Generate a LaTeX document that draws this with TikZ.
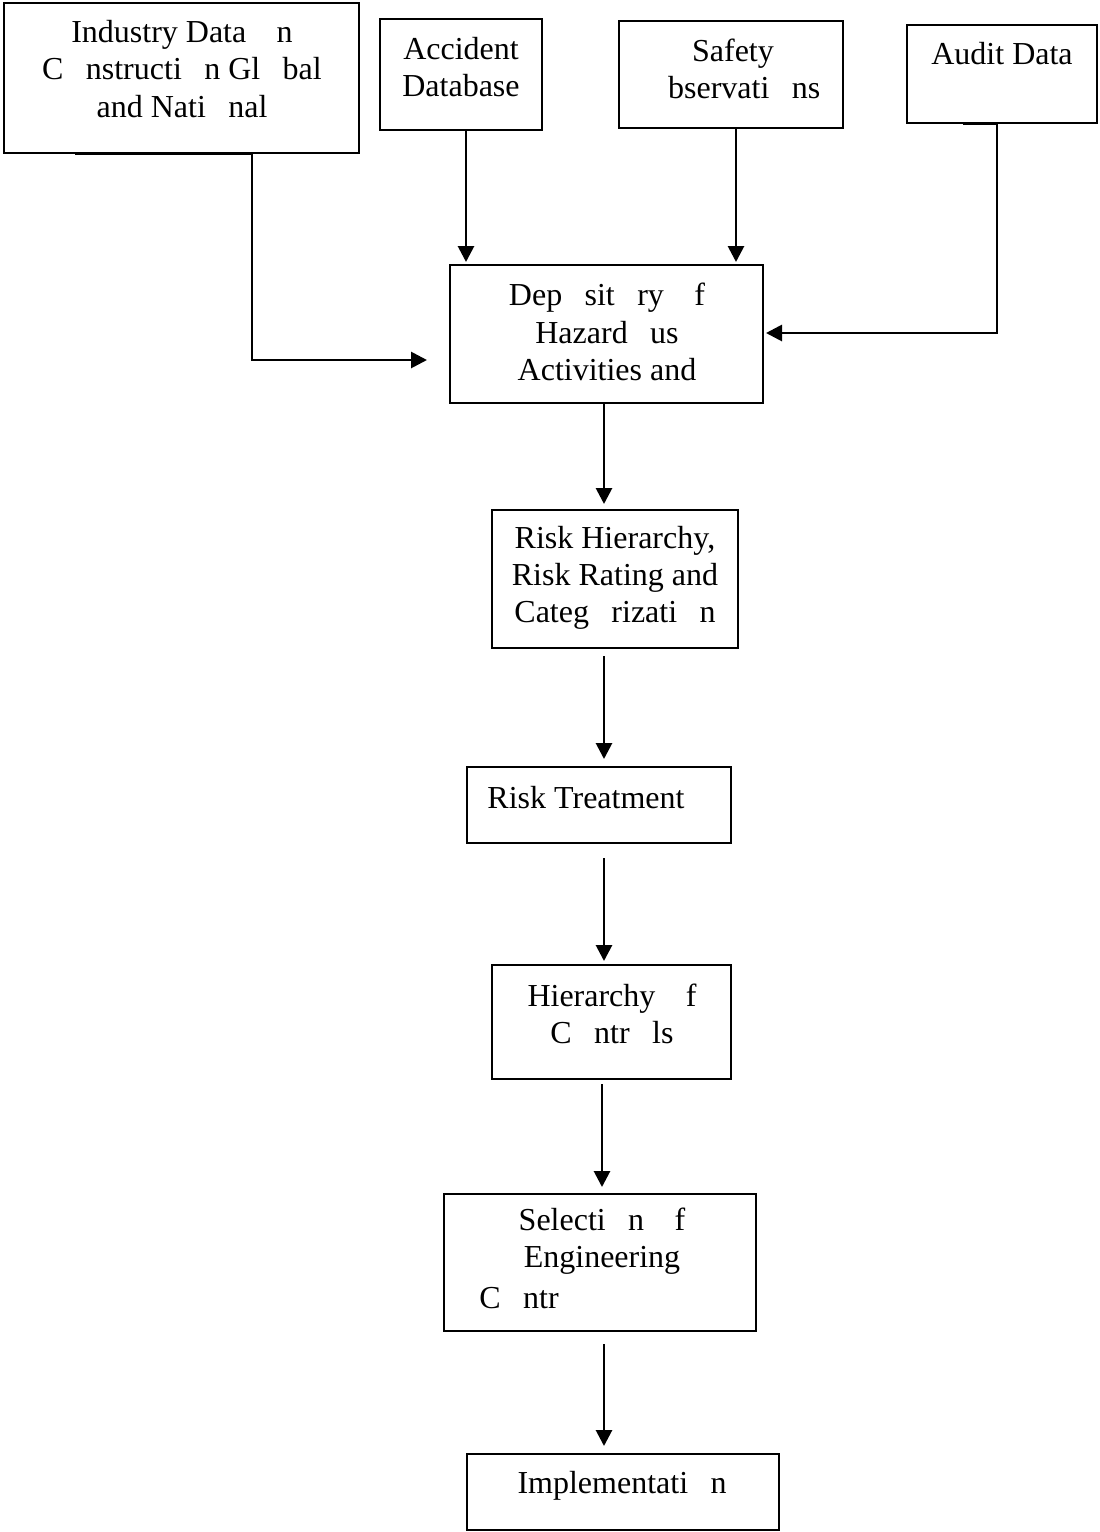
\documentclass[tikz,border=0pt]{standalone}
\usepackage{fontspec}
\setmainfont{Liberation Serif}
\usepackage{tikz}
\usetikzlibrary{arrows.meta,positioning,calc}
\newcommand{\nog}{\hspace{0.7em}}
\tikzset{
  box/.style={draw=black,line width=1pt,inner sep=0pt,fill=white},
  lbl/.style={align=center,inner sep=0pt,font=\fontsize{16}{18.6}\selectfont},
  arrow/.style={-{Triangle[length=8pt,width=8pt]},line width=1.4pt,color=black}
}
\begin{document}
\begin{tikzpicture}[x=0.5pt,y=-0.5pt]
  \useasboundingbox (0,0) rectangle (1099,1532);
  \node[box,minimum width=177.5pt,minimum height=75pt] (industry) at (181.5,78) {};
  \node[box,minimum width=81pt,minimum height=55.5pt] (accident) at (461,74.5) {};
  \node[box,minimum width=112pt,minimum height=53.5pt] (safety) at (731,74.5) {};
  \node[box,minimum width=95pt,minimum height=49pt] (audit) at (1002,74) {};
  \node[box,minimum width=156.5pt,minimum height=69pt] (depo) at (606.5,334) {};
  \node[box,minimum width=123pt,minimum height=69pt] (riskh) at (615,579) {};
  \node[box,minimum width=132pt,minimum height=38pt] (treat) at (599,805) {};
  \node[box,minimum width=119.5pt,minimum height=57pt] (hoc) at (611.5,1022) {};
  \node[box,minimum width=156pt,minimum height=68.5pt] (sel) at (600,1262.5) {};
  \node[box,minimum width=156pt,minimum height=38pt] (impl) at (623,1492) {};

  \node[lbl] (industryT) at (182,69) {Industry Data \nog{}n\\C\nog{}nstructi\nog{}n Gl\nog{}bal\\and Nati\nog{}nal};
  \node[lbl] (accidentT) at (461,67) {Accident\\Database};
  \node[lbl] (safetyT) at (733,69) {Safety\\\nog{}bservati\nog{}ns};
  \node[lbl] (auditT) at (1002,54) {Audit Data};
  \node[lbl] (depoT) at (607,332) {Dep\nog{}sit\nog{}ry \nog{}f\\Hazard\nog{}us\\Activities and};
  \node[lbl] (riskhT) at (615,578) {Risk Hierarchy,\\Risk Rating and\\Categ\nog{}rizati\nog{}n};
  \node[lbl] (treatT) at (586,798) {Risk Treatment};
  \node[lbl] (hocT) at (612,1014) {Hierarchy \nog{}f\\C\nog{}ntr\nog{}ls};
  \node[lbl] (selT) at (602,1241) {Selecti\nog{}n \nog{}f\\Engineering};
  \node[lbl,anchor=west] (selC) at (479,1298) {C\nog{}ntr};
  \node[lbl] (implT) at (622,1486) {Implementati\nog{}n};

  \draw[arrow] ([xshift=-53.25pt]industry.south) -- ([xshift=35.25pt]industry.south)
    |- ([xshift=-11pt,yshift=-13pt]depo.west);
  \draw[arrow] ([xshift=-19.5pt]audit.south) -- ([xshift=-2.5pt]audit.south)
    |- ([xshift=1pt,yshift=0.5pt]depo.east);
  \draw[arrow] ([xshift=2.5pt]accident.south) -- ([xshift=-70.25pt,yshift=1pt]depo.north);
  \draw[arrow] ([xshift=2.5pt]safety.south) -- ([xshift=64.75pt,yshift=1pt]depo.north);
  \draw[arrow] ([xshift=-1.25pt]depo.south) -- ([xshift=-5.5pt,yshift=2.5pt]riskh.north);
  \draw[arrow] ([xshift=-5.5pt,yshift=-3.5pt]riskh.south) -- ([xshift=2.5pt,yshift=3.5pt]treat.north);
  \draw[arrow] ([xshift=2.5pt,yshift=-7pt]treat.south) -- ([xshift=-3.75pt,yshift=1.5pt]hoc.north);
  \draw[arrow] ([xshift=-4.75pt,yshift=-2pt]hoc.south) -- ([xshift=1pt,yshift=3pt]sel.north);
  \draw[arrow] ([xshift=2pt,yshift=-6pt]sel.south) -- ([xshift=-9.5pt,yshift=3.5pt]impl.north);
\end{tikzpicture}
\end{document}
